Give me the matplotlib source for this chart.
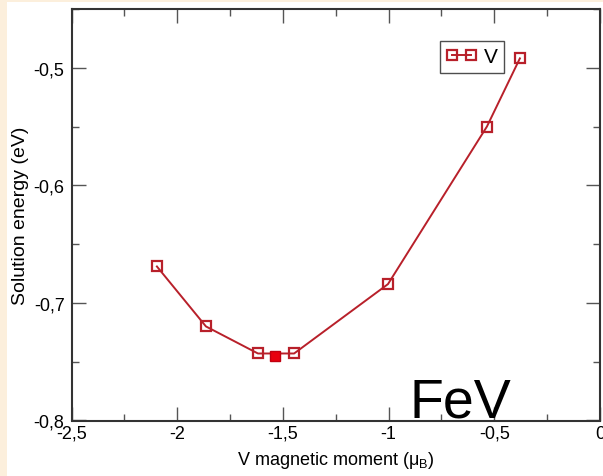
import matplotlib
matplotlib.use("Agg")
import matplotlib.pyplot as plt
from matplotlib.ticker import MultipleLocator, FuncFormatter
from matplotlib.patches import Rectangle

# V magnetic moment (mu_B) and solution energy (eV)
moment = [-2.096, -1.864, -1.618, -1.447, -1.003, -0.535, -0.379]
energy = [-0.669, -0.720, -0.743, -0.743, -0.684, -0.550, -0.492]
# ground-state point
gs_moment = [-1.537]
gs_energy = [-0.745]

plt.rcParams['font.family'] = ['Liberation Sans', 'DejaVu Sans']
plt.rcParams['mathtext.fontset'] = 'custom'
plt.rcParams['mathtext.rm'] = 'Liberation Sans'
plt.rcParams['mathtext.it'] = 'Liberation Sans:italic'

fig = plt.figure(figsize=(6.03, 4.77), dpi=100)
fig.patch.set_facecolor('#fcefdc')
fig.patches.append(Rectangle((7 / 603, 0), 1, 1 - 2.5 / 477, transform=fig.transFigure,
                             facecolor='white', edgecolor='none', zorder=-10))

ax = fig.add_axes([71.5 / 603, 55.5 / 477, 528.5 / 603, 411.5 / 477])
ax.set_zorder(5)
ax.set_facecolor('white')

line_color = '#b8202a'
ax.plot(moment, energy, color=line_color, lw=1.4, marker='s', ms=7,
        mfc='none', mec=line_color, mew=1.6, label='V', zorder=3)
ax.plot(gs_moment, gs_energy, linestyle='none', marker='s', ms=7,
        mfc='#e8000e', mec='#c00010', mew=1.0, zorder=4)

ax.set_xlim(-2.5, 0)
ax.set_ylim(-0.8, -0.45)

ax.xaxis.set_major_locator(MultipleLocator(0.5))
ax.xaxis.set_minor_locator(MultipleLocator(0.25))
ax.yaxis.set_major_locator(MultipleLocator(0.1))
ax.yaxis.set_minor_locator(MultipleLocator(0.05))

def comma_fmt(v, pos):
    s = ('%g' % round(v, 3)).replace('.', ',')
    return s

ax.xaxis.set_major_formatter(FuncFormatter(comma_fmt))
ax.yaxis.set_major_formatter(FuncFormatter(comma_fmt))

ax.tick_params(which='both', direction='in', top=True, right=True,
               color='#555555', labelsize=13, width=1.0)
ax.tick_params(which='major', length=10)
ax.tick_params(axis='x', which='major', pad=3)
ax.tick_params(axis='y', which='major', pad=5)
ax.tick_params(which='minor', length=5)

for sp in ax.spines.values():
    sp.set_color('#333333')
    sp.set_linewidth(1.5)

ax.set_xlabel('V magnetic moment (μ$_{\\rm B}$)', fontsize=13, labelpad=5)
ax.set_ylabel('Solution energy (eV)', fontsize=14, labelpad=3)

leg = ax.legend(loc='upper left', bbox_to_anchor=((440 - 71.5) / 528.5, 1 - (42 - 10) / 411.5),
                numpoints=2, fontsize=15, frameon=True, fancybox=False,
                handlelength=1.5, handletextpad=0.3, borderpad=0.3,
                borderaxespad=0.0)
leg.get_frame().set_edgecolor('#222222')
leg.get_frame().set_linewidth(1.0)

ax.text((460 - 71.5) / 528.5, 0.01, 'FeV', transform=ax.transAxes,
        fontsize=40, ha='center', va='baseline', color='black')

fig.savefig('out.png', dpi=100, facecolor=fig.get_facecolor())
